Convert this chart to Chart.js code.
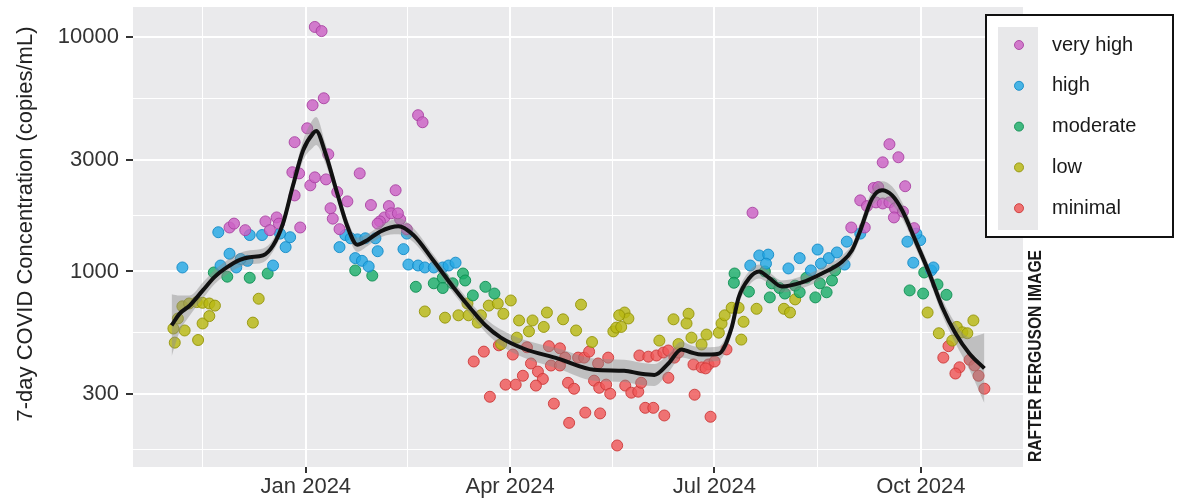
<!DOCTYPE html>
<html><head><meta charset="utf-8">
<script src="https://cdn.jsdelivr.net/npm/chart.js@4.4.1/dist/chart.umd.min.js"></script>
<style>html,body{margin:0;padding:0;background:#fff;}#wrap{width:1189px;height:498px;position:relative;}</style>
</head><body><div id="wrap"><canvas id="c" width="1189" height="498"></canvas></div>
<script>
// ---- DATA (x = days since 1 Jan 2024, y = copies/mL) ----
const categories = ['very high', 'high', 'moderate', 'low', 'minimal'];

const veryHigh = [[-34,1540],[-32,1600],[-27,1500],[-18,1635],[-13,1700],[-12,1600],[-16,1500],[-2.5,1540],[-5,2110],[-6,2650],[-3,2620],[2,2330],[4,2520],[9,2470],[-5,3560],[0.6,4080],[3,5120],[8,5480],[4,11040],[7,10600],[10,3160],[14,2180],[18.5,1990],[11,1860],[12,1680],[24,2620],[29,1920],[40,2220],[37,1900],[35,1700],[33,1635],[42,1670],[45,1515],[15,1515],[50,4640],[52,4330],[38,1770],[32,1600],[41,1770],
[199,1780],[243,1540],[249,1540],[247,2010],[253,2270],[255,2290],[250,1900],[254,1970],[257,1950],[260,1970],[262.5,1860],[262,1700],[266,1800],[257,2920],[260,3490],[264,3070],[267,2310],[271,1530]];

const high = [[-55,1040],[-39,1470],[-34,1190],[-38,1060],[-31,1040],[-26,1110],[-25,1430],[-19.5,1430],[-14.6,1060],[-9,1270],[-7,1400],[-11.5,1450],[-29,1130],
[15,1270],[17.6,1430],[20,1385],[23,1370],[26.5,1385],[31,1385],[32,1220],[22,1140],[25,1110],[28,1050],[43.5,1245],[45,1450],[45.7,1070],[50,1060],[53,1040],[57,1040],[61,1040],[63.6,1060],[66.7,1090],
[198,1060],[202,1170],[206,1180],[205,1080],[215,1030],[220,1140],[228,1240],[225,1010],[229.5,1080],[233,1140],[236.6,1205],[240,1070],[241,1340],[247,1450],[268,1340],[270.6,1090],[273.7,1360],[272,1450],[278.6,1010],[279.6,1040]];

const moderate = [[-41,990],[-35,950],[-25,940],[-17,980],
[22,1010],[29.6,960],[49,860],[57,890],[61,940],[61,850],[65.4,890],[70,980],[71,915],[74.4,790],[80,860],[84,805],
[191,980],[190.7,895],[197.4,820],[204.5,1000],[207.6,890],[206.7,775],[211,850],[213.4,805],[218,870],[220,815],[223,940],[227,775],[229,890],[232,815],[234.4,915],[235.8,1010],[269,830],[275,805],[281.4,880],[285.4,795],[275.5,990]];

const low = [[-59,571],[-58.4,497],[-57,630],[-54,560],[-55,710],[-52,730],[-48.6,740],[-46,735],[-43,730],[-40.5,715],[-46,600],[-43,645],[-48,510],[-21,765],[-23.6,605],
[53,675],[62,635],[68,650],[72.5,650],[72,730],[76.6,605],[78,650],[81.5,715],[85.5,730],[88,660],[91.3,752],[95,618],[99.4,555],[101,618],[106,580],[107.4,668],[114.6,625],[120.4,560],[122.6,722],[127.5,500],[94,522],[87,490],
[137,555],[138.3,576],[140.5,580],[142,668],[143.7,630],[139.6,650],[157.5,507],[163.8,625],[166,490],[170.5,660],[169.6,600],[171.8,522],[176.3,488],[178.5,538],[184,548],[185.2,600],[186.6,650],[189.7,700],[192.8,700],[195,610],[194,512],[200.8,693],[213,693],[215.7,668],[218,760],
[277,668],[282,545],[288,507],[290,580],[292.5,550],[294.7,545],[297.4,618]];

const minimal = [[74.8,413],[79.3,455],[86,484],[82,292],[89,329],[93.5,329],[92.2,442],[96.7,359],[98.5,475],[100.3,405],[103.4,374],[105.6,348],[102.5,326],[108.3,480],[109.2,397],[113.2,397],[113.2,470],[115.5,429],[116.8,335],[119.5,316],[110.5,273],[117.3,226],[121.3,429],[124,429],[126.2,455],[130.2,405],[128.4,342],[130.7,319],[134.7,429],[133.8,329],[135.6,301],[124.5,250],[131.1,248],[138.7,181],[142.3,326],[145,304],[148.1,307],[149.4,335],[151.2,262],[154.8,262],[148.6,438],[152.6,433],[156.2,438],[159.3,451],[161.5,460],[164.2,429],[166,451],[159.7,243],[161.5,352],[173.2,298],[172.7,401],[176.3,390],[179.4,401],[182.1,413],[180.3,240],[187.4,465],[178.1,386],
[286.3,480],[284,429],[291.2,390],[289.4,367],[295.7,420],[297.9,397],[299.7,359],[302.3,316]];

// smoothed trend and its confidence band
const fitDays   = [-59.8,-56.2,-51.7,-45.9,-40.5,-35.2,-29.4,-24.9,-19.1,-14.6,-10.2,-5.7,-1.2,3.3,4.6,8.6,14.0,18.5,22.9,27.4,33.2,37.7,41.2,47.9,56.9,65.8,73.4,80.1,86.9,97.2,112.4,128.4,141.8,149.4,155.3,161.5,167.3,171.8,176.3,183.9,189.7,192.8,197.4,201.9,206.3,212.0,221.0,229.9,238.9,243.3,246.5,252.3,256.7,261.2,265.7,271.5,277.8,283.6,289.4,295.6,302.3];
const fitValues = [589,661,716,830,950,1040,1120,1150,1170,1290,1600,2330,3290,3890,3970,3220,2150,1560,1300,1360,1480,1540,1560,1430,1110,855,695,588,522,468,425,381,377,366,362,405,465,451,442,446,576,774,933,1000,940,863,898,980,1100,1230,1450,2050,2220,2110,1820,1360,980,702,545,447,386];
const fitUpper  = [799,789,790,898,1018,1114,1200,1232,1253,1368,1697,2496,3630,4465,4557,3553,2303,1671,1393,1443,1570,1650,1688,1532,1177,907,737,630,565,511,469,425,420,408,403,443,503,483,474,478,617,829,1000,1071,997,915,953,1040,1167,1305,1553,2218,2426,2305,1969,1457,1050,759,601,523,545];
const fitLower  = [434,554,649,767,887,971,1045,1073,1092,1216,1508,2175,2982,3389,3459,2918,2007,1456,1213,1282,1395,1437,1442,1335,1046,806,655,549,483,428,385,342,338,328,325,371,430,421,413,416,538,722,871,933,886,814,847,924,1037,1160,1354,1895,2032,1931,1682,1269,915,649,494,382,274];

// axis ticks
const xMajorTicks  = [0, 91, 182, 274];
const xMajorLabels = ['Jan 2024', 'Apr 2024', 'Jul 2024', 'Oct 2024'];
const xMinorTicks  = [-46, 45.5, 136.5, 228];
const yMajorTicks  = [300, 1000, 3000, 10000];
const yMajorLabels = ['300', '1000', '3000', '10000'];
const yMinorTicks  = [173.2, 547.7, 1732, 5477];

// ---- STYLE ----
const FONT = '"Liberation Sans", Arial, Helvetica, sans-serif';
const PANEL = '#EAEAEC';
const catFill   = ['rgba(204,98,196,0.82)','rgba(36,168,228,0.82)','rgba(28,174,106,0.82)','rgba(184,184,18,0.82)','rgba(240,88,88,0.82)'];
const catBorder = ['rgba(168,66,162,0.9)','rgba(18,138,198,0.9)','rgba(14,142,82,0.9)','rgba(148,148,8,0.9)','rgba(204,56,56,0.9)'];
const catData = [veryHigh, high, moderate, low, minimal];

const toPts = arr => arr.map(p => ({x: p[0], y: p[1]}));
const seriesPts = vals => fitDays.map((d, i) => ({x: d, y: vals[i]}));

const datasets = [
  {type:'line', label:'trend', data: seriesPts(fitValues), borderColor:'#111', borderWidth:4,
   pointRadius:0, cubicInterpolationMode:'monotone', fill:false, order:0},
  {type:'line', label:'band upper', data: seriesPts(fitUpper), borderColor:'rgba(0,0,0,0)', borderWidth:0,
   pointRadius:0, cubicInterpolationMode:'monotone', backgroundColor:'rgba(140,140,140,0.45)', fill:'+1', order:1},
  {type:'line', label:'band lower', data: seriesPts(fitLower), borderColor:'rgba(0,0,0,0)', borderWidth:0,
   pointRadius:0, cubicInterpolationMode:'monotone', fill:false, order:1}
];
categories.forEach((c, i) => {
  datasets.push({type:'scatter', label:c, data: toPts(catData[i]), backgroundColor: catFill[i],
    borderColor: catBorder[i], borderWidth:1, pointRadius:5.5, order: 2 + i});
});

const isXMajor = v => xMajorTicks.includes(v);
const isYMajor = v => yMajorTicks.includes(v);

const panelBg = {
  id:'panelBg',
  beforeDraw(chart){
    const {ctx, chartArea:a} = chart;
    ctx.save(); ctx.fillStyle = PANEL;
    ctx.fillRect(a.left, a.top, a.right - a.left, a.bottom - a.top);
    ctx.restore();
  }
};

const decorations = {
  id:'decorations',
  afterDraw(chart){
    const ctx = chart.ctx;
    // y axis title
    ctx.save();
    ctx.translate(26, 224); ctx.rotate(-Math.PI/2);
    ctx.font = '22px ' + FONT; ctx.fillStyle = '#222';
    ctx.textAlign = 'center'; ctx.textBaseline = 'middle';
    ctx.fillText('7-day COVID Concentration (copies/mL)', 0, 0);
    ctx.restore();
    // legend
    ctx.save();
    ctx.fillStyle = '#fff'; ctx.fillRect(986, 15, 187, 222);
    ctx.lineWidth = 2; ctx.strokeStyle = '#111'; ctx.strokeRect(986, 15, 187, 222);
    ctx.fillStyle = '#E8E8EA'; ctx.fillRect(998, 27, 40, 203);
    ctx.font = '20px ' + FONT; ctx.textBaseline = 'middle'; ctx.textAlign = 'left';
    categories.forEach((c, i) => {
      const y = 45 + i * 40.8;
      ctx.beginPath(); ctx.arc(1019, y, 4.5, 0, Math.PI*2);
      ctx.fillStyle = catFill[i]; ctx.fill();
      ctx.lineWidth = 1; ctx.strokeStyle = catBorder[i]; ctx.stroke();
      ctx.fillStyle = '#1a1a1a'; ctx.fillText(c, 1052, y);
    });
    ctx.restore();
    // credit
    ctx.save();
    ctx.translate(1036, 356); ctx.rotate(-Math.PI/2);
    ctx.font = 'bold 18px ' + FONT; ctx.fillStyle = '#1a1a1a';
    const txt = 'RAFTER FERGUSON IMAGE';
    const w = ctx.measureText(txt).width;
    ctx.scale(212 / w, 1);
    ctx.textAlign = 'center'; ctx.textBaseline = 'middle';
    ctx.fillText(txt, 0, 0);
    ctx.restore();
  }
};

new Chart(document.getElementById('c'), {
  type:'scatter',
  data:{datasets},
  options:{
    responsive:false, animation:false, devicePixelRatio:1,
    layout:{padding:{top:7, right:166, left:0, bottom:0}},
    plugins:{legend:{display:false}, tooltip:{enabled:false}},
    scales:{
      x:{type:'linear', min:-77, max:319.5,
        afterBuildTicks: ax => { ax.ticks = [...xMinorTicks, ...xMajorTicks].sort((a,b)=>a-b).map(v => ({value:v})); },
        afterFit: s => { s.height = 31; s.paddingLeft = 0; s.paddingRight = 0; },
        ticks:{autoSkip:false, maxRotation:0, minRotation:0, padding:1, color:'#333',
          font:{family:FONT, size:22},
          callback: v => { const i = xMajorTicks.indexOf(v); return i >= 0 ? xMajorLabels[i] : ''; }},
        grid:{color:'#fff', lineWidth: c => (c.tick && isXMajor(c.tick.value)) ? 2 : 1,
          drawTicks:true, tickLength:6, tickWidth:2,
          tickColor: c => (c.tick && isXMajor(c.tick.value)) ? '#333' : 'rgba(0,0,0,0)'},
        border:{display:false}
      },
      y:{type:'logarithmic', min:146.5, max:13430,
        afterBuildTicks: ax => { ax.ticks = [...yMinorTicks, ...yMajorTicks].sort((a,b)=>a-b).map(v => ({value:v})); },
        afterFit: s => { s.width = 133; s.paddingTop = 0; s.paddingBottom = 0; },
        ticks:{autoSkip:false, padding:7, color:'#333', font:{family:FONT, size:22},
          callback: v => { const i = yMajorTicks.indexOf(v); return i >= 0 ? yMajorLabels[i] : ''; }},
        grid:{color:'#fff', lineWidth: c => (c.tick && isYMajor(c.tick.value)) ? 2 : 1,
          drawTicks:true, tickLength:7, tickWidth:2,
          tickColor: c => (c.tick && isYMajor(c.tick.value)) ? '#333' : 'rgba(0,0,0,0)'},
        border:{display:false}
      }
    }
  },
  plugins:[panelBg, decorations]
});
</script></body></html>
